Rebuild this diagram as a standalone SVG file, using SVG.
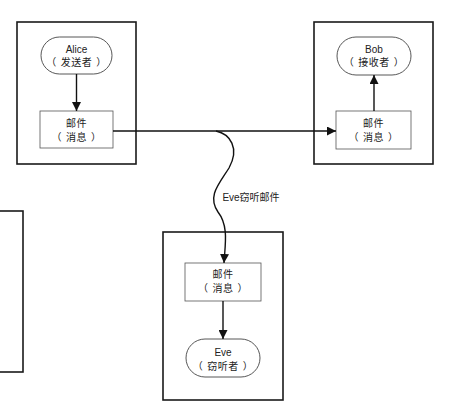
<svg xmlns="http://www.w3.org/2000/svg" width="453" height="409" viewBox="0 0 453 409">
<defs>
<style>
.frame{fill:#fff;stroke:#1a1a1a;stroke-width:1.6}
.box{fill:#fff;stroke:#555;stroke-width:0.8}
.term{fill:#fff;stroke:#444;stroke-width:0.9}
.t{font-family:"Liberation Sans","Noto Sans CJK SC",sans-serif;font-size:10px;fill:#222;text-anchor:middle}
.p{font-family:"Noto Sans CJK SC",sans-serif;font-size:10px;letter-spacing:0.5px}
.c{fill:none;stroke:#111;stroke-width:1.4}
</style>
<marker id="ahb" viewBox="0 0 10 10" refX="10" refY="5" markerWidth="9" markerHeight="9" markerUnits="userSpaceOnUse" orient="auto">
<path d="M0,0 L10,5 L0,10 z" fill="#111"/>
</marker>
</defs>
<rect width="453" height="409" fill="#fff"/>
<g id="left-partial"><rect class="frame" x="-5" y="211" width="28" height="161"/></g>
<g id="alice-frame"><rect class="frame" x="17" y="22" width="119" height="142"/></g>
<g id="bob-frame"><rect class="frame" x="314" y="22" width="119" height="142"/></g>
<g id="eve-frame"><rect class="frame" x="163" y="232" width="120" height="168"/></g>
<g id="alice"><rect class="term" x="41" y="37" width="71" height="37" rx="18.5"/>
<text class="t" x="76.5" y="52.5">Alice</text><text class="t p" x="76.5" y="66">（<tspan dx="4">发送者</tspan><tspan dx="4">）</tspan></text></g>
<g id="alice-msg"><rect class="box" x="40" y="111" width="73" height="37"/>
<text class="t p" x="76.5" y="127">邮件</text><text class="t p" x="76.5" y="141">（<tspan dx="4">消息</tspan><tspan dx="4">）</tspan></text></g>
<g id="bob"><rect class="term" x="337" y="37" width="74" height="38" rx="19"/>
<text class="t" x="374" y="52.5">Bob</text><text class="t p" x="374" y="66">（<tspan dx="4">接收者</tspan><tspan dx="4">）</tspan></text></g>
<g id="bob-msg"><rect class="box" x="336" y="111" width="75" height="38"/>
<text class="t p" x="373.5" y="127">邮件</text><text class="t p" x="373.5" y="141">（<tspan dx="4">消息</tspan><tspan dx="4">）</tspan></text></g>
<g id="eve-msg"><rect class="box" x="185" y="263" width="76" height="38"/>
<text class="t p" x="223" y="278">邮件</text><text class="t p" x="223" y="292">（<tspan dx="4">消息</tspan><tspan dx="4">）</tspan></text></g>
<g id="eve"><rect class="term" x="186" y="339" width="74" height="38" rx="19"/>
<text class="t" x="223" y="356">Eve</text><text class="t p" x="223" y="370">（<tspan dx="4">窃听者</tspan><tspan dx="4">）</tspan></text></g>
<g id="connectors">
<line class="c" x1="76.5" y1="74" x2="76.5" y2="111" marker-end="url(#ahb)"/>
<line class="c" x1="374" y1="111" x2="374" y2="75" marker-end="url(#ahb)"/>
<line class="c" x1="113" y1="131" x2="336" y2="131" marker-end="url(#ahb)"/>
<line class="c" x1="223" y1="301" x2="223" y2="339" marker-end="url(#ahb)"/>
<path class="c" d="M216,131 C230,134 240,148 229,168 C219,184 207,196 218,212 C229,226 225,245 224,263" marker-end="url(#ahb)"/>
<text class="t" x="251" y="201">Eve窃听邮件</text>
</g>
</svg>
